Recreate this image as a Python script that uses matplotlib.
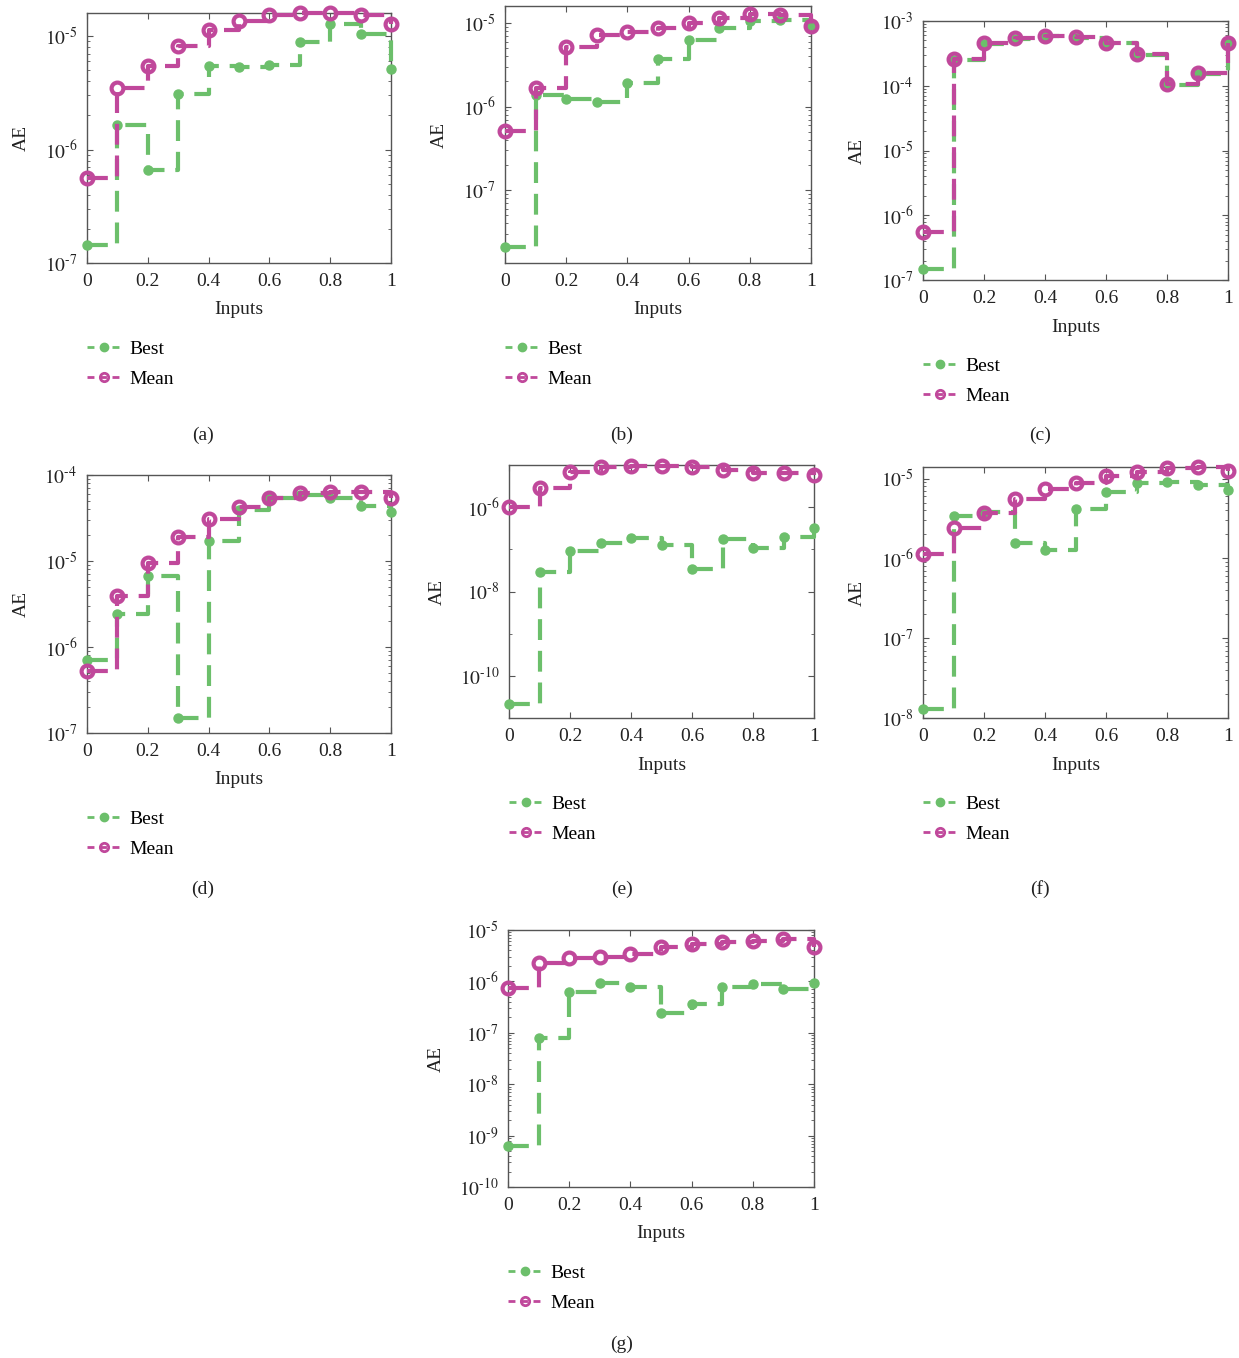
import matplotlib.pyplot as plt
from matplotlib.ticker import LogLocator, NullFormatter, FuncFormatter
import math

plt.rcParams['font.family'] = ['Liberation Serif', 'DejaVu Serif']
plt.rcParams['mathtext.fontset'] = 'stix'
plt.rcParams['font.size'] = 14

# dati
inputs = [0, 0.1, 0.2, 0.3, 0.4, 0.5, 0.6, 0.7, 0.8, 0.9, 1.0]
xtick_vals = [0, 0.2, 0.4, 0.6, 0.8, 1.0]
xtick_labels = ['0', '0.2', '0.4', '0.6', '0.8', '1']

best_a = [1.45e-7, 1.65e-6, 6.6e-7, 3.07e-6, 5.5e-6, 5.4e-6, 5.6e-6, 8.9e-6, 1.28e-5, 1.05e-5, 5.1e-6]
mean_a = [5.6e-7, 3.5e-6, 5.5e-6, 8.2e-6, 1.13e-5, 1.36e-5, 1.53e-5, 1.6e-5, 1.6e-5, 1.53e-5, 1.28e-5]

best_b = [2.1e-8, 1.38e-6, 1.24e-6, 1.15e-6, 1.94e-6, 3.7e-6, 6.2e-6, 8.7e-6, 1.05e-5, 1.08e-5, 9.5e-6]
mean_b = [5.1e-7, 1.66e-6, 5.1e-6, 7.2e-6, 7.9e-6, 8.7e-6, 1.0e-5, 1.15e-5, 1.29e-5, 1.26e-5, 9.3e-6]

best_c = [1.5e-7, 2.5e-4, 4.4e-4, 5.3e-4, 5.8e-4, 5.5e-4, 4.5e-4, 3.0e-4, 1.03e-4, 1.5e-4, 4.5e-4]
mean_c = [5.6e-7, 2.58e-4, 4.5e-4, 5.5e-4, 5.9e-4, 5.6e-4, 4.6e-4, 3.1e-4, 1.06e-4, 1.55e-4, 4.6e-4]

best_d = [7.1e-7, 2.43e-6, 6.7e-6, 1.49e-7, 1.71e-5, 3.9e-5, 5.4e-5, 5.9e-5, 5.4e-5, 4.4e-5, 3.75e-5]
mean_d = [5.2e-7, 3.87e-6, 9.6e-6, 1.92e-5, 3.05e-5, 4.3e-5, 5.45e-5, 6.1e-5, 6.4e-5, 6.3e-5, 5.45e-5]

best_e = [2.17e-11, 2.98e-8, 8.9e-8, 1.45e-7, 1.9e-7, 1.28e-7, 3.4e-8, 1.74e-7, 1.07e-7, 1.94e-7, 3.18e-7]
mean_e = [1.0e-6, 2.8e-6, 6.75e-6, 9.2e-6, 9.5e-6, 9.5e-6, 9.2e-6, 7.7e-6, 6.4e-6, 6.6e-6, 5.8e-6]

best_f = [1.3e-8, 3.4e-6, 3.85e-6, 1.58e-6, 1.28e-6, 4.2e-6, 6.8e-6, 8.7e-6, 9.1e-6, 8.3e-6, 7.2e-6]
mean_f = [1.13e-6, 2.38e-6, 3.73e-6, 5.64e-6, 7.5e-6, 8.8e-6, 1.07e-5, 1.21e-5, 1.37e-5, 1.42e-5, 1.25e-5]

best_g = [6.2e-10, 8.1e-8, 6.3e-7, 9.4e-7, 7.9e-7, 2.45e-7, 3.56e-7, 7.9e-7, 8.75e-7, 7.0e-7, 9.4e-7]
mean_g = [7.3e-7, 2.31e-6, 2.8e-6, 3.03e-6, 3.36e-6, 4.6e-6, 5.33e-6, 5.93e-6, 6.2e-6, 6.6e-6, 4.73e-6]

green = '#6cbf6b'
magenta = '#c0489b'
W, H = 1239, 1358

# (didascalia, best, mean, box in pixel [left, top, right, bottom], ylim, tick maggiori, posizione didascalia)
panels = [
    ('(a)', best_a, mean_a, (87, 13, 391, 263), (1e-7, 1.6e-5), None, (203, 435)),
    ('(b)', best_b, mean_b, (505, 6, 811, 263), (1.34e-8, 1.6e-5), None, (622, 435)),
    ('(c)', best_c, mean_c, (923, 21, 1228, 280), (1e-7, 1e-3), None, (1040, 435)),
    ('(d)', best_d, mean_d, (87, 475, 391, 733), (1e-7, 1e-4), None, (203, 889)),
    ('(e)', best_e, mean_e, (509, 465, 814, 718), (1e-11, 1e-5), [1e-10, 1e-8, 1e-6], (622, 889)),
    ('(f)', best_f, mean_f, (923, 467, 1228, 718), (1e-8, 1.4e-5), None, (1040, 889)),
    ('(g)', best_g, mean_g, (508, 930, 814, 1187), (1e-10, 1e-5), None, (622, 1344)),
]


def pow_label(v, pos):
    e = int(round(math.log10(v)))
    if e < 0:
        return r'$10^{\text{-}%d}$' % abs(e)
    return r'$10^{%d}$' % e


fig = plt.figure(figsize=(W / 100, H / 100), dpi=100)

for cap, best, mean, (l, t, r, b), ylim, yt, (cx, cy) in panels:
    ax = fig.add_axes([l / W, 1 - b / H, (r - l) / W, (b - t) / H])
    ls = (0, (5, 2.6))
    ax.plot(inputs, best, drawstyle='steps-post', color=green, lw=3, ls=ls,
            marker='o', ms=6.5, mfc=green, mec=green, label='Best', clip_on=False, zorder=3)
    ax.plot(inputs, mean, drawstyle='steps-post', color=magenta, lw=3, ls=ls,
            marker='o', ms=8.5, mfc='none', mec=magenta, mew=3, label='Mean', clip_on=False, zorder=4)
    ax.set_yscale('log')
    ax.set_xlim(0, 1)
    ax.set_ylim(*ylim)
    if yt is not None:
        ax.set_yticks(yt)
        ax.yaxis.set_minor_locator(LogLocator(base=10, subs=(1.0,), numticks=20))
    else:
        ax.yaxis.set_minor_locator(LogLocator(base=10, subs=range(2, 10), numticks=20))
    ax.yaxis.set_major_formatter(FuncFormatter(pow_label))
    ax.yaxis.set_minor_formatter(NullFormatter())
    ax.set_xticks(xtick_vals)
    ax.set_xticklabels(xtick_labels)
    ax.tick_params(which='both', direction='in', top=True, right=True, colors='#555555',
                   labelcolor='#222222', labelsize=14)
    ax.tick_params(which='major', length=4, pad=7)
    ax.tick_params(which='minor', length=2)
    for s in ax.spines.values():
        s.set_color('#555555')
        s.set_linewidth(1)

    hpx = b - t
    ax.set_xlabel('Inputs', fontsize=14, color='#222222')
    ax.xaxis.set_label_coords(0.5, -47 / hpx)
    ax.xaxis.label.set_va('center')
    ax.set_ylabel('AE', fontsize=14, color='#222222')
    ax.yaxis.label.set_va('center')
    off = 72 if cap in ('(e)', '(g)') else 66
    ax.yaxis.set_label_coords(-off / (r - l), 0.5)

    leg = ax.legend(loc='upper left', bbox_to_anchor=(l / W, 1 - (b + 77) / H),
                    bbox_transform=fig.transFigure, frameon=False, fontsize=14,
                    handlelength=1.75, handletextpad=0.45, borderpad=0, borderaxespad=0,
                    labelspacing=0.65, numpoints=1)
    for h in leg.get_lines():
        h.set_linewidth(2)
        h.set_linestyle((0, (2.5, 2)))
    leg.get_lines()[0].set_markersize(6)
    leg.get_lines()[1].set_markersize(6)
    leg.get_lines()[1].set_markeredgewidth(2)

    fig.text(cx / W, 1 - cy / H, cap, ha='center', va='center', fontsize=14, color='#222222')

plt.savefig('out.png', dpi=100)
